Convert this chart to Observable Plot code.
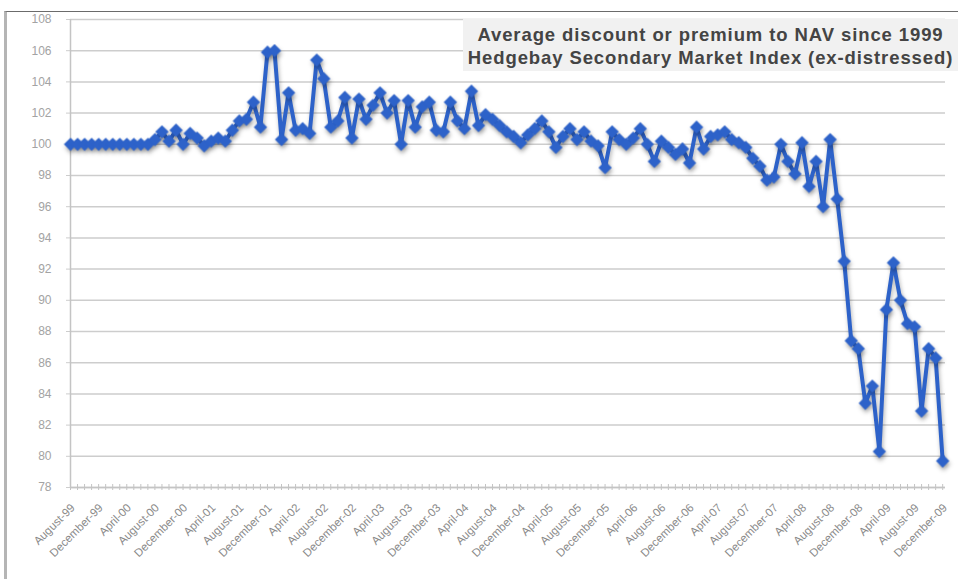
<!DOCTYPE html>
<html><head><meta charset="utf-8">
<script src="https://cdn.jsdelivr.net/npm/d3@7"></script>
<script src="https://cdn.jsdelivr.net/npm/@observablehq/plot@0.6"></script>
<style>
body{margin:0;background:#fff;width:958px;height:579px;overflow:hidden;position:relative;font-family:"Liberation Sans",Arial,sans-serif}
#frame{position:absolute;left:4px;top:11px;width:980px;height:620px;border-top:1px solid #6b6b6b;border-left:3px solid #b5b5b5;}
#chart{position:absolute;left:0;top:0}
#title{position:absolute;left:463px;top:19px;width:495px;height:52px;background:#f1f1f1;color:#444;font-weight:bold;font-size:18.5px;letter-spacing:0.9px;text-align:center;line-height:23px;padding-top:4px;box-sizing:border-box;white-space:nowrap}
</style></head><body>
<div id="frame"></div>
<div id="chart"></div>
<div id="title">Average discount or premium to NAV since 1999<br>Hedgebay Secondary Market Index (ex-distressed)</div>
<script>
// X tick labels (every 4 months, August 1999 .. December 2009)
const tickLabels = [
  "August-99","December-99","April-00","August-00","December-00","April-01","August-01","December-01",
  "April-02","August-02","December-02","April-03","August-03","December-03","April-04","August-04",
  "December-04","April-05","August-05","December-05","April-06","August-06","December-06","April-07",
  "August-07","December-07","April-08","August-08","December-08","April-09","August-09","December-09"
];
// Monthly index values (August 1999 .. December 2009)
const values = [
  100.0,100.0,100.0,100.0,100.0,100.0,100.0,100.0,100.0,100.0,100.0,100.0,
  100.3,100.8,100.2,100.9,100.0,100.7,100.4,99.9,100.2,100.4,100.2,100.9,
  101.5,101.6,102.7,101.1,105.9,106.0,100.3,103.3,100.9,101.0,100.7,105.4,
  104.2,101.1,101.5,103.0,100.4,102.9,101.6,102.5,103.3,102.0,102.8,100.0,
  102.8,101.1,102.4,102.7,100.9,100.8,102.7,101.5,101.0,103.4,101.2,101.9,
  101.6,101.2,100.8,100.5,100.1,100.6,101.0,101.5,100.8,99.8,100.5,101.0,
  100.3,100.8,100.2,99.9,98.5,100.8,100.3,100.0,100.4,101.0,100.0,98.9,
  100.2,99.8,99.35,99.7,98.8,101.1,99.7,100.5,100.6,100.8,100.3,100.1,
  99.8,99.1,98.6,97.7,97.9,100.0,98.9,98.1,100.1,97.3,98.9,96.0,
  100.3,96.5,92.5,87.4,86.9,83.4,84.5,80.3,89.4,92.4,90.0,88.5,
  88.3,82.9,86.9,86.3,79.7
];
const yTicks = [78,80,82,84,86,88,90,92,94,96,98,100,102,104,106,108];

const data = values.map((v, i) => ({i, v}));
const months = values.map((_, i) => i);
const tickIdx = tickLabels.map((_, k) => k * 4);
const blue = "#2d62c9";

const chart = Plot.plot({
  width: 958, height: 579,
  marginLeft: 70, marginRight: 13, marginTop: 19, marginBottom: 92,
  x: {domain: [0, 124.4], axis: null},
  y: {domain: [78, 108], axis: null},
  style: {background: "transparent", overflow: "visible", fontFamily: "Liberation Sans, Arial, sans-serif"},
  marks: [
    Plot.gridY(yTicks, {stroke: "#cdcdcd", strokeOpacity: 1, strokeWidth: 1.5}),
    Plot.axisY(yTicks, {tickSize: 4, tickPadding: 15, fontSize: 12, color: "#a3a3a3", stroke: "#cdcdcd", label: null}),
    Plot.ruleX([0], {stroke: "#c4c4c4", strokeWidth: 1.5}),
    Plot.ruleY([78], {stroke: "#c4c4c4", strokeWidth: 1.5}),
    Plot.ruleX(months, {x: d => d, y1: 78, y2: 78, insetTop: -3, insetBottom: -3, stroke: "#c4c4c4"}),
    Plot.text(tickIdx, {x: d => d, frameAnchor: "bottom", text: (d, k) => tickLabels[k], rotate: -45, textAnchor: "end", dx: 5, dy: 21, fontSize: 11.5, fill: "#8a8a8a"}),
    Plot.line(data, {x: "i", y: "v", stroke: blue, strokeWidth: 4, strokeLinejoin: "round"}),
    Plot.dot(data, {x: "i", y: "v", symbol: "diamond2", r: 6, fill: blue, stroke: "none"})
  ]
});
d3.select(chart).selectAll('g[aria-label="line"], g[aria-label="dot"]')
  .style("filter", "drop-shadow(1px 3px 2px rgba(0,0,0,0.3))");
document.getElementById("chart").appendChild(chart);
</script>
</body></html>
